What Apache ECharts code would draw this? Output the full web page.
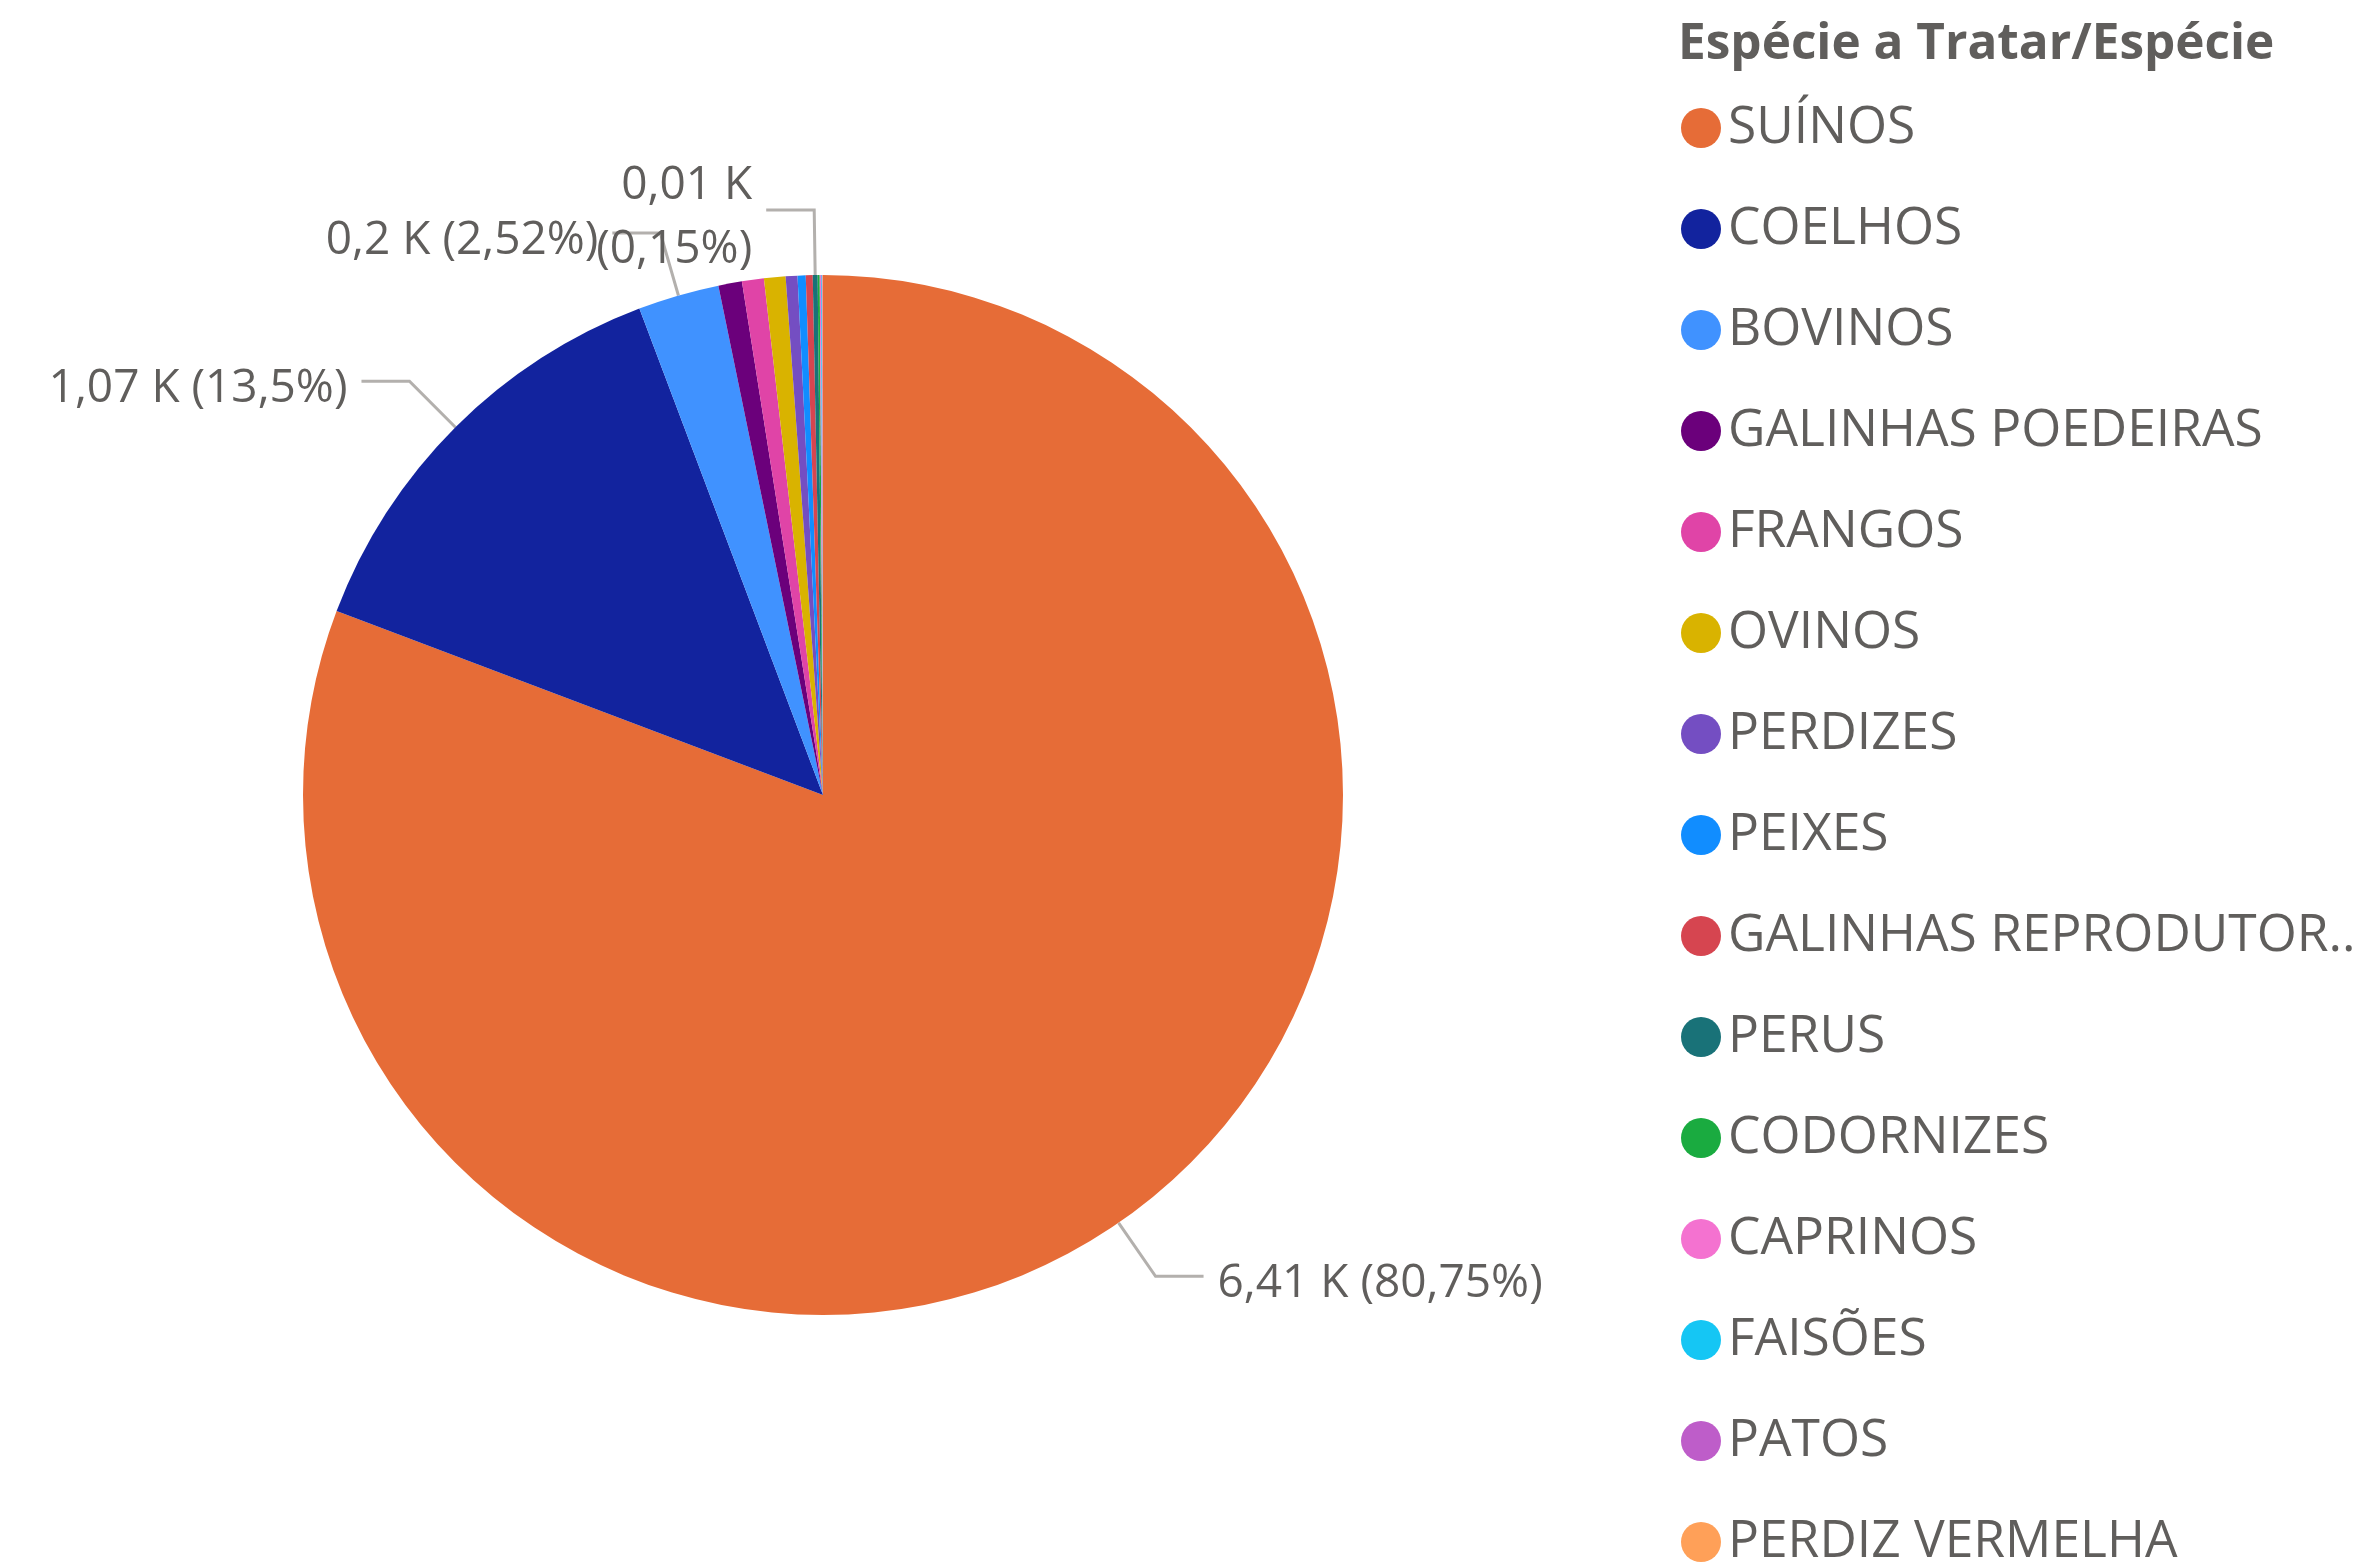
<!DOCTYPE html>
<html>
<head>
<meta charset="utf-8">
<script src="https://cdn.jsdelivr.net/npm/echarts@6/dist/echarts.min.js"></script>
<style>
    html, body { margin: 0; padding: 0; background: #fff; }
    #main-chart { width: 2355px; height: 1565px; }
</style>
</head>
<body>
<div id="main-chart"></div>
<script>
    // dados
    var categories = ['SUÍNOS', 'COELHOS', 'BOVINOS', 'GALINHAS POEDEIRAS', 'FRANGOS', 'OVINOS', 'PERDIZES',
        'PEIXES', 'GALINHAS REPRODUTORAS', 'PERUS', 'CODORNIZES', 'CAPRINOS', 'FAISÕES', 'PATOS', 'PERDIZ VERMELHA'];
    var values = [6411, 1072, 200, 58, 54, 53, 29, 20, 17, 12, 5, 3, 2, 2, 1];
    var colors = ['#E66C37', '#12239E', '#4092FF', '#6B007B', '#E044A7', '#D9B300', '#744EC2',
        '#118DFF', '#D64550', '#197278', '#1AAB40', '#F472D0', '#15C6F4', '#BE5DC9', '#FFA058'];
    // fatias com rótulo
    var labelled = ['SUÍNOS', 'COELHOS', 'BOVINOS', 'PERUS'];
    var wrapped = ['PERUS'];

    var total = values.reduce(function (a, b) { return a + b; }, 0);
    var textColor = '#605E5C';
    var font = 'Open Sans';

    function fmt(n) {
        return n.toFixed(2).replace(/\.?0+$/, '').replace('.', ',');
    }

    var pieData = [];
    for (var i = 0; i < categories.length; i++) {
        var show = labelled.indexOf(categories[i]) >= 0;
        pieData.push({
            name: categories[i],
            value: values[i],
            itemStyle: { color: colors[i] },
            label: { show: show },
            labelLine: { show: show }
        });
    }

    var myChart = echarts.init(document.getElementById('main-chart'));

    var option = {
        backgroundColor: '#fff',
        animation: false,
        title: {
            text: 'Espécie a Tratar/Espécie',
            left: 1678,
            top: 20,
            padding: 0,
            textStyle: {
                fontFamily: font,
                fontWeight: 'bold',
                fontSize: 49.5,
                color: textColor
            }
        },
        legend: {
            orient: 'vertical',
            left: 1681,
            top: 102,
            height: 1520,
            padding: 0,
            icon: 'circle',
            itemWidth: 44,
            itemHeight: 40,
            itemGap: 49,
            selectedMode: false,
            data: categories,
            textStyle: {
                fontFamily: font,
                fontSize: 51.5,
                lineHeight: 52,
                color: textColor,
                width: 632,
                overflow: 'truncate',
                ellipsis: '..'
            }
        },
        series: [{
            type: 'pie',
            center: [823, 795],
            radius: 520,
            startAngle: 90,
            clockwise: true,
            avoidLabelOverlap: false,
            labelLayout: { hideOverlap: false },
            label: {
                position: 'outside',
                fontFamily: font,
                fontSize: 46,
                lineHeight: 64,
                color: textColor,
                distanceToLabelLine: 14,
                formatter: function (p) {
                    var a = '{v|' + fmt(p.value / 1000) + ' K}';
                    var b = '{v|(' + fmt(p.value / total * 100) + '%)}';
                    return wrapped.indexOf(p.name) >= 0 ? a + '\n' + b : a + '{v| }' + b;
                },
                rich: {
                    v: {
                        fontFamily: font,
                        fontSize: 46,
                        lineHeight: 64,
                        color: textColor,
                        padding: [16, 0, 0, 0]
                    }
                }
            },
            labelLine: {
                length: 65,
                length2: 48,
                lineStyle: { color: '#B3B0AD', width: 3 }
            },
            itemStyle: { borderWidth: 0 },
            emphasis: { disabled: true },
            data: pieData
        }]
    };

    myChart.setOption(option);
</script>
</body>
</html>
